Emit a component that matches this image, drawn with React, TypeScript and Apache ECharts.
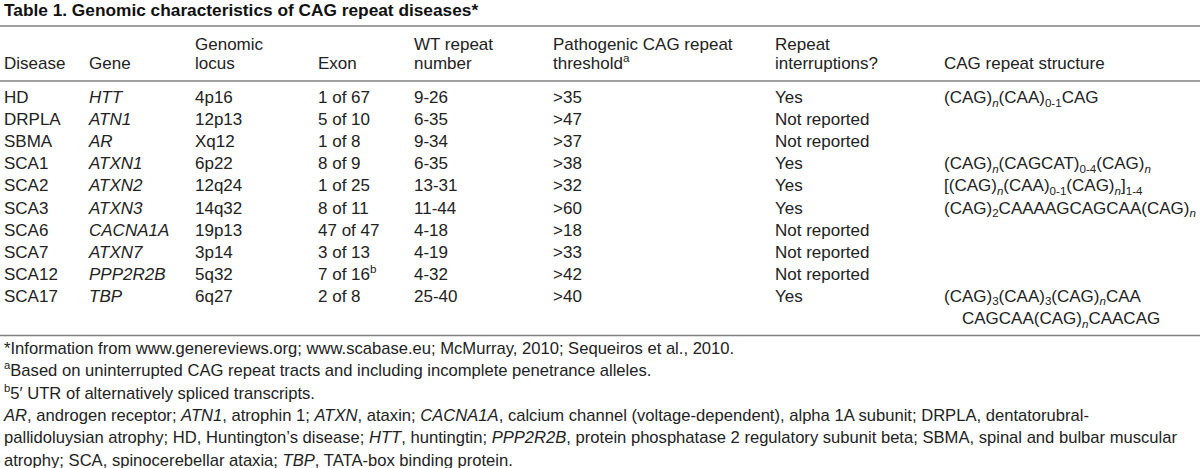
import React, { useEffect, useRef } from "react";
import * as echarts from "echarts";

// ---------------- data ----------------
const title = "Table 1. Genomic characteristics of CAG repeat diseases*";
const headerTop = ["", "", "Genomic", "", "WT repeat", "Pathogenic CAG repeat", "Repeat", ""];
const headerBottom = ["Disease", "Gene", "locus", "Exon", "number", "threshold{sup:a}", "interruptions?", "CAG repeat structure"];
const diseases = ["HD", "DRPLA", "SBMA", "SCA1", "SCA2", "SCA3", "SCA6", "SCA7", "SCA12", "SCA17"];
const genes = ["HTT", "ATN1", "AR", "ATXN1", "ATXN2", "ATXN3", "CACNA1A", "ATXN7", "PPP2R2B", "TBP"];
const loci = ["4p16", "12p13", "Xq12", "6p22", "12q24", "14q32", "19p13", "3p14", "5q32", "6q27"];
const exons = ["1 of 67", "5 of 10", "1 of 8", "8 of 9", "1 of 25", "8 of 11", "47 of 47", "3 of 13", "7 of 16{sup:b}", "2 of 8"];
const wtRepeats = ["9-26", "6-35", "9-34", "6-35", "13-31", "11-44", "4-18", "4-19", "4-32", "25-40"];
const thresholds = [">35", ">47", ">37", ">38", ">32", ">60", ">18", ">33", ">42", ">40"];
const interruptions = ["Yes", "Not reported", "Not reported", "Yes", "Yes", "Yes", "Not reported", "Not reported", "Not reported", "Yes"];
const structures = [
  "(CAG){subi:n}(CAA){sub:0-1}CAG",
  "",
  "",
  "(CAG){subi:n}(CAGCAT){sub:0-4}(CAG){subi:n}",
  "[(CAG){subi:n}(CAA){sub:0-1}(CAG){subi:n}]{sub:1-4}",
  "(CAG){sub:2}CAAAAGCAGCAA(CAG){subi:n}",
  "",
  "",
  "",
  "(CAG){sub:3}(CAA){sub:3}(CAG){subi:n}CAA",
];
const structureContinued = "CAGCAA(CAG){subi:n}CAACAG";
const footnotes = [
  "*Information from www.genereviews.org; www.scabase.eu; McMurray, 2010; Sequeiros et al., 2010.",
  "{sup:a}Based on uninterrupted CAG repeat tracts and including incomplete penetrance alleles.",
  "{sup:b}5\u2032 UTR of alternatively spliced transcripts.",
  "{i:AR}, androgen receptor; {i:ATN1}, atrophin 1; {i:ATXN}, ataxin; {i:CACNA1A}, calcium channel (voltage-dependent), alpha 1A subunit; DRPLA, dentatorubral-",
  "pallidoluysian atrophy; HD, Huntington\u2019s disease; {i:HTT}, huntingtin; {i:PPP2R2B}, protein phosphatase 2 regulatory subunit beta; SBMA, spinal and bulbar muscular",
  "atrophy; SCA, spinocerebellar ataxia; {i:TBP}, TATA-box binding protein.",
];

// ---------------- layout ----------------
const FONT = "'Liberation Sans', Arial, Helvetica, sans-serif";
const TEXT = "#222222";
const colX = [4, 89, 195, 318, 414, 553, 775, 944];
const contX = 962;
const headY = [44, 63];
const rowY0 = 97.5;
const rowStep = 22.1;
const footY0 = 348.5;
const footStep = 22.3;
const BODY = 17;
const FOOT = 16.6;
const SX = 1;

type Run = { text: string; italic: boolean; kind: "n" | "sub" | "sup" };

function parse(s: string, italic = false): Run[] {
  const out: Run[] = [];
  const re = /\{(i|sub|subi|sup):([^}]*)\}/g;
  let last = 0;
  let m: RegExpExecArray | null;
  while ((m = re.exec(s))) {
    if (m.index > last) out.push({ text: s.slice(last, m.index), italic, kind: "n" });
    const tag = m[1];
    if (tag === "i") out.push({ text: m[2], italic: true, kind: "n" });
    else if (tag === "sub") out.push({ text: m[2], italic: false, kind: "sub" });
    else if (tag === "subi") out.push({ text: m[2], italic: true, kind: "sub" });
    else out.push({ text: m[2], italic: false, kind: "sup" });
    last = re.lastIndex;
  }
  if (last < s.length) out.push({ text: s.slice(last), italic, kind: "n" });
  return out;
}

let ctx: CanvasRenderingContext2D | null = null;
function measure(text: string, size: number, italic: boolean, bold: boolean): number {
  if (!ctx) ctx = document.createElement("canvas").getContext("2d");
  ctx!.font = `${italic ? "italic " : ""}${bold ? "bold " : ""}${size}px ${FONT}`;
  return ctx!.measureText(text).width;
}

function line(
  s: string,
  x: number,
  y: number,
  opt: { size?: number; bold?: boolean; italic?: boolean; color?: string; sx?: number } = {}
): any[] {
  const size = opt.size ?? BODY;
  const sx = opt.sx ?? SX;
  const els: any[] = [];
  let cx = x;
  for (const r of parse(s, !!opt.italic)) {
    const fs = r.kind === "n" ? size : Math.round(size * 0.68 * 10) / 10;
    const dy = r.kind === "sub" ? size * 0.27 : r.kind === "sup" ? -size * 0.32 : 0;
    els.push({
      type: "text",
      x: cx,
      y: y + dy,
      scaleX: sx,
      silent: true,
      style: {
        text: r.text,
        fill: opt.color ?? TEXT,
        fontFamily: FONT,
        fontSize: fs,
        fontStyle: r.italic ? "italic" : "normal",
        fontWeight: opt.bold ? "bold" : "normal",
        align: "left",
        verticalAlign: "middle",
      },
    });
    cx += measure(r.text, fs, r.italic, !!opt.bold) * sx;
  }
  return els;
}

function buildElements(): any[] {
  const els: any[] = [];
  els.push(...line(title, 4, 10, { size: 17.3, bold: true, color: "#111" }));
  const rule = (y: number) => ({
    type: "line",
    silent: true,
    shape: { x1: 0, y1: y, x2: 1200, y2: y },
    style: { stroke: "#808080", lineWidth: 1.6 },
  });
  els.push(rule(26), rule(81), rule(335.5));
  headerTop.forEach((h, i) => h && els.push(...line(h, colX[i], headY[0])));
  headerBottom.forEach((h, i) => h && els.push(...line(h, colX[i], headY[1])));
  diseases.forEach((d, r) => {
    const y = rowY0 + r * rowStep;
    const cells = [d, genes[r], loci[r], exons[r], wtRepeats[r], thresholds[r], interruptions[r], structures[r]];
    cells.forEach((c, i) => {
      if (!c) return;
      els.push(...line(c, colX[i], y, { italic: i === 1 }));
    });
  });
  els.push(...line(structureContinued, contX, rowY0 + diseases.length * rowStep));
  footnotes.forEach((f, i) => els.push(...line(f, 4, footY0 + i * footStep, { size: FOOT })));
  return els;
}

export default function App() {
  const ref = useRef<HTMLDivElement>(null);
  useEffect(() => {
    if (!ref.current) return;
    const chart = echarts.init(ref.current, undefined, { renderer: "svg" });
    chart.setOption({
      animation: false,
      backgroundColor: "#ffffff",
      graphic: { elements: buildElements() },
    });
    return () => chart.dispose();
  }, []);
  return (
    <div
      ref={ref}
      style={{ position: "fixed", left: 0, top: 0, width: 1200, height: 468, background: "#fff" }}
    />
  );
}
